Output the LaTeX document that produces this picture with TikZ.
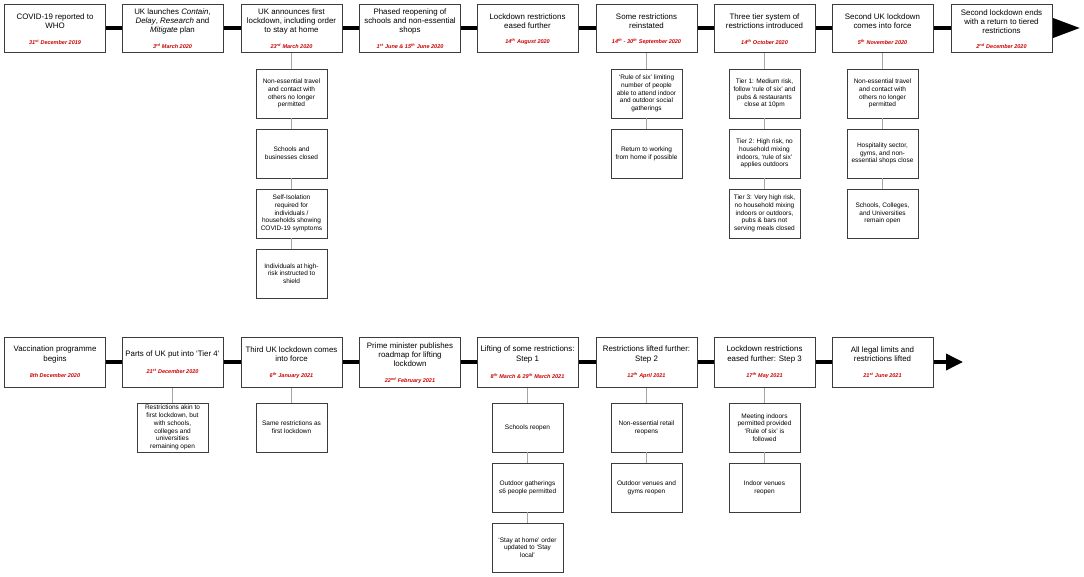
\documentclass[tikz,border=0pt]{standalone}
\usepackage{fontspec}
\setmainfont{Liberation Sans}
\usetikzlibrary{arrows.meta}
\definecolor{datered}{RGB}{204,0,0}
\definecolor{boxline}{RGB}{60,60,60}
\definecolor{linkgrey}{RGB}{165,165,165}
\tikzset{
  mainbox/.style={draw=boxline,line width=1pt,fill=white,minimum width=101pt,inner sep=0pt},
  titletext/.style={align=flush center,text width=99pt,inner sep=0pt,font=\fontsize{7.9}{9.3}\selectfont},
  datetext/.style={align=center,inner sep=0pt,text=datered,font=\fontsize{5.5}{7}\selectfont\bfseries\itshape},
  subbox/.style={draw=boxline,line width=0.9pt,fill=white,minimum width=71pt,minimum height=49pt,
    text width=70pt,align=flush center,inner sep=0pt,font=\fontsize{6.5}{7.7}\selectfont},
  timeline/.style={line width=3.6pt,black},
  link/.style={draw=linkgrey,line width=0.9pt}
}
\newcommand\evt[7]{%
  \node[mainbox,minimum height=#4pt] (#1) at (#2,#3+#4/2) {};
  \node[titletext] (#1t) at (#2,#3+17.5) {#5};
  \node[datetext] (#1d) at (#2,#3+#7) {#6};
}
\newcommand\subev[4]{%
  \node[subbox] (#1) at (#2,#3+24.5) {#4};
}
\newcommand\sps[1]{\textsuperscript{#1}}
\begin{document}
\begin{tikzpicture}[x=1pt,y=-1pt]
\useasboundingbox (0,0) rectangle (1084,576);
% ---------- top row ----------
\evt{a1}{55}{4}{48}{COVID-19 reported to\\WHO}{31\sps{st} December 2019}{38}
\evt{a2}{172.5}{4}{48}{UK launches \textit{Contain},\\\textit{Delay}, \textit{Research} and\\\textit{Mitigate} plan}{3\sps{rd} March 2020}{42}
\evt{a3}{291.5}{4}{48}{UK announces first\\lockdown, including order\\to stay at home}{23\sps{rd} March 2020}{42}
\evt{a4}{410}{4}{48}{Phased reopening of\\schools and non-essential\\shops}{1\sps{st} June \& 15\sps{th} June 2020}{42}
\evt{a5}{527.5}{4}{48}{Lockdown restrictions\\eased further}{14\sps{th} August 2020}{38}
\evt{a6}{646.5}{4}{48}{Some restrictions\\reinstated}{14\sps{th} - 30\sps{th} September 2020}{38}
\evt{a7}{764.5}{4}{48}{Three tier system of\\restrictions introduced}{14\sps{th} October 2020}{38}
\evt{a8}{882.5}{4}{48}{Second UK lockdown\\comes into force}{5\sps{th} November 2020}{38}
\evt{a9}{1001.5}{4}{48}{Second lockdown ends\\with a return to tiered\\restrictions}{2\sps{nd} December 2020}{42}
\coordinate (aend) at (1080,28);
\foreach \i/\j in {a1/a2,a2/a3,a3/a4,a4/a5,a5/a6,a6/a7,a7/a8,a8/a9}
  \draw[timeline] (\i) -- (\j);
\draw[timeline,-{Triangle[length=27pt,width=19pt]}] (a9) -- (aend);
% top sub boxes
\subev{s31}{291.5}{69}{Non-essential travel\\and contact with\\others no longer\\permitted}
\subev{s32}{291.5}{129}{Schools and\\businesses closed}
\subev{s33}{291.5}{189}{Self-Isolation\\required for\\individuals /\\households showing\\COVID-19 symptoms}
\subev{s34}{291.5}{249}{Individuals at high-\\risk instructed to\\shield}
\subev{s61}{646.5}{69}{`Rule of six' limiting\\number of people\\able to attend indoor\\and outdoor social\\gatherings}
\subev{s62}{646.5}{129}{Return to working\\from home if possible}
\subev{s71}{764.5}{69}{Tier 1: Medium risk,\\follow `rule of six' and\\pubs \& restaurants\\close at 10pm}
\subev{s72}{764.5}{129}{Tier 2: High risk, no\\household mixing\\indoors, `rule of six'\\applies outdoors}
\subev{s73}{764.5}{189}{Tier 3: Very high risk,\\no household mixing\\indoors or outdoors,\\pubs \& bars not\\serving meals closed}
\subev{s81}{882.5}{69}{Non-essential travel\\and contact with\\others no longer\\permitted}
\subev{s82}{882.5}{129}{Hospitality sector,\\gyms, and non-\\essential shops close}
\subev{s83}{882.5}{189}{Schools, Colleges,\\and Universities\\remain open}
\foreach \i/\j in {a3/s31,s31/s32,s32/s33,s33/s34,a6/s61,s61/s62,a7/s71,s71/s72,s72/s73,a8/s81,s81/s82,s82/s83}
  \draw[link] (\i.south) -- (\j.north);
% ---------- bottom row ----------
\evt{b1}{55}{337}{50}{Vaccination programme\\begins}{8th December 2020}{39}
\evt{b2}{172.5}{337}{50}{Parts of UK put into `Tier 4'}{21\sps{st} December 2020}{34}
\evt{b3}{291.5}{337}{50}{Third UK lockdown comes\\into force}{6\sps{th} January 2021}{39}
\evt{b4}{410}{337}{50}{Prime minister publishes\\roadmap for lifting\\lockdown}{22\sps{nd} February 2021}{44}
\evt{b5}{527.5}{337}{50}{Lifting of some restrictions:\\Step 1}{8\sps{th} March \& 29\sps{th} March 2021}{39}
\evt{b6}{646.5}{337}{50}{Restrictions lifted further:\\Step 2}{12\sps{th} April 2021}{39}
\evt{b7}{764.5}{337}{50}{Lockdown restrictions\\eased further: Step 3}{17\sps{th} May 2021}{39}
\evt{b8}{882.5}{337}{50}{All legal limits and\\restrictions lifted}{21\sps{st} June 2021}{38}
\coordinate (bend) at (963,362);
\foreach \i/\j in {b1/b2,b2/b3,b3/b4,b4/b5,b5/b6,b6/b7,b7/b8}
  \draw[timeline] (\i) -- (\j);
\draw[timeline,-{Triangle[length=17pt,width=16pt]}] (b8) -- (bend);
% bottom sub boxes
\subev{t21}{172.5}{403}{Restrictions akin to\\first lockdown, but\\with schools,\\colleges and\\universities\\remaining open}
\subev{t31}{291.5}{403}{Same restrictions as\\first lockdown}
\subev{t51}{527.5}{403}{Schools reopen}
\subev{t52}{527.5}{463}{Outdoor gatherings\\≤6 people permitted}
\subev{t53}{527.5}{523}{`Stay at home' order\\updated to `Stay\\local'}
\subev{t61}{646.5}{403}{Non-essential retail\\reopens}
\subev{t62}{646.5}{463}{Outdoor venues and\\gyms reopen}
\subev{t71}{764.5}{403}{Meeting indoors\\permitted provided\\`Rule of six' is\\followed}
\subev{t72}{764.5}{463}{Indoor venues\\reopen}
\foreach \i/\j in {b2/t21,b3/t31,b5/t51,t51/t52,t52/t53,b6/t61,t61/t62,b7/t71,t71/t72}
  \draw[link] (\i.south) -- (\j.north);
\end{tikzpicture}
\end{document}
